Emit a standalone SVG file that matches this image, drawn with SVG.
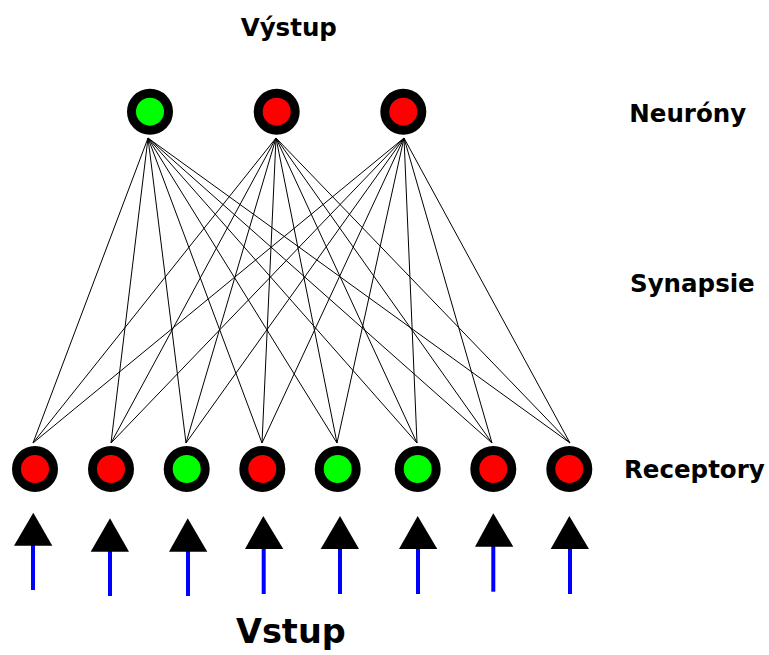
<svg xmlns="http://www.w3.org/2000/svg" width="769" height="655" viewBox="0 0 769 655">
  <style>
    .cell { stroke: #000; stroke-width: 9; }
    .on { fill: #00ff00; }
    .off { fill: #ff0000; }
    .syn line { stroke: #000; stroke-width: 1; }
    .head { fill: #000; }
    .shaft { stroke: #0000ff; stroke-width: 4; }
    .lbl { font-family: "DejaVu Sans", Verdana, sans-serif; font-weight: bold; fill: #000; }
  </style>
  <rect width="769" height="655" fill="#fff"/>

  <!-- synapses: every receptor wired to every neuron -->
  <g id="synapses" class="syn">
    <line x1="148" y1="138" x2="33" y2="443"/>
    <line x1="148" y1="138" x2="111" y2="443"/>
    <line x1="148" y1="138" x2="186" y2="443"/>
    <line x1="148" y1="138" x2="262" y2="443"/>
    <line x1="148" y1="138" x2="337" y2="443"/>
    <line x1="148" y1="138" x2="417" y2="443"/>
    <line x1="148" y1="138" x2="492" y2="443"/>
    <line x1="148" y1="138" x2="570" y2="443"/>
    <line x1="276" y1="138" x2="33" y2="443"/>
    <line x1="276" y1="138" x2="111" y2="443"/>
    <line x1="276" y1="138" x2="186" y2="443"/>
    <line x1="276" y1="138" x2="262" y2="443"/>
    <line x1="276" y1="138" x2="337" y2="443"/>
    <line x1="276" y1="138" x2="417" y2="443"/>
    <line x1="276" y1="138" x2="492" y2="443"/>
    <line x1="276" y1="138" x2="570" y2="443"/>
    <line x1="404" y1="138" x2="33" y2="443"/>
    <line x1="404" y1="138" x2="111" y2="443"/>
    <line x1="404" y1="138" x2="186" y2="443"/>
    <line x1="404" y1="138" x2="262" y2="443"/>
    <line x1="404" y1="138" x2="337" y2="443"/>
    <line x1="404" y1="138" x2="417" y2="443"/>
    <line x1="404" y1="138" x2="492" y2="443"/>
    <line x1="404" y1="138" x2="570" y2="443"/>
  </g>

  <!-- output neurons -->
  <g id="neuron-1"><circle class="cell on" cx="150" cy="111.7" r="18.5"/></g>
  <g id="neuron-2"><circle class="cell off" cx="276.7" cy="111.7" r="18.5"/></g>
  <g id="neuron-3"><circle class="cell off" cx="403.3" cy="111.7" r="18.5"/></g>

  <!-- receptors -->
  <g id="receptor-1"><circle class="cell off" cx="35" cy="469" r="18.5"/></g>
  <g id="receptor-2"><circle class="cell off" cx="111" cy="469" r="18.5"/></g>
  <g id="receptor-3"><circle class="cell on" cx="186.7" cy="469" r="18.5"/></g>
  <g id="receptor-4"><circle class="cell off" cx="262.3" cy="469" r="18.5"/></g>
  <g id="receptor-5"><circle class="cell on" cx="337.7" cy="469" r="18.5"/></g>
  <g id="receptor-6"><circle class="cell on" cx="417.7" cy="469" r="18.5"/></g>
  <g id="receptor-7"><circle class="cell off" cx="493.3" cy="469" r="18.5"/></g>
  <g id="receptor-8"><circle class="cell off" cx="569.3" cy="469" r="18.5"/></g>

  <!-- input arrows -->
  <g id="inputs">
    <line class="shaft" x1="33" y1="544" x2="33" y2="590"/>
    <polygon class="head" points="33.3,512.7 52.3,545.7 14,545.7"/>
    <line class="shaft" x1="110" y1="550" x2="110" y2="596"/>
    <polygon class="head" points="110,518.3 129,551.7 90.7,551.7"/>
    <line class="shaft" x1="188" y1="550" x2="188" y2="596"/>
    <polygon class="head" points="187.7,518.3 207.3,551.7 169,551.7"/>
    <line class="shaft" x1="263.7" y1="547" x2="263.7" y2="594"/>
    <polygon class="head" points="263.3,516 283.3,549 245,549"/>
    <line class="shaft" x1="340" y1="547" x2="340" y2="594"/>
    <polygon class="head" points="340,516 359,549 320.7,549"/>
    <line class="shaft" x1="418" y1="547" x2="418" y2="594"/>
    <polygon class="head" points="417.7,516 437.3,549 399,549"/>
    <line class="shaft" x1="493.3" y1="545" x2="493.3" y2="591.7"/>
    <polygon class="head" points="493.3,513.3 513.3,546.7 475,546.7"/>
    <line class="shaft" x1="570" y1="547" x2="570" y2="594"/>
    <polygon class="head" points="569.3,516 589,549 550.7,549"/>
  </g>

  <!-- labels -->
  <g id="labels">
    <text class="lbl" x="240.7" y="35.5" font-size="24.5">Výstup</text>
    <text class="lbl" x="629.3" y="121.7" font-size="24.5">Neuróny</text>
    <text class="lbl" x="630" y="291.7" font-size="24.5">Synapsie</text>
    <text class="lbl" x="624" y="478.3" font-size="24.5">Receptory</text>
    <text class="lbl" x="236" y="643.3" font-size="33.5">Vstup</text>
  </g>
</svg>
